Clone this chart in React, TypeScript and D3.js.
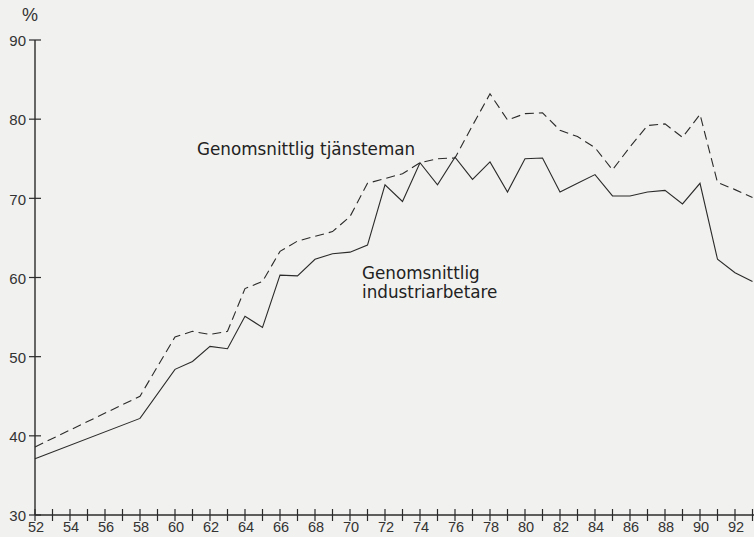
import React from "react";
import * as d3 from "d3";

const years = [52, 58, 60, 61, 62, 63, 64, 65, 66, 67, 68, 69, 70, 71, 72, 73, 74, 75, 76, 77, 78, 79, 80, 81, 82, 83, 84, 85, 86, 87, 88, 89, 90, 91, 92, 93];
const industriarbetare = [37.1, 42.2, 48.4, 49.4, 51.3, 51.0, 55.1, 53.7, 60.3, 60.2, 62.3, 63.0, 63.2, 64.1, 71.7, 69.6, 74.5, 71.7, 75.2, 72.4, 74.6, 70.8, 75.0, 75.1, 70.8, 71.9, 73.0, 70.3, 70.3, 70.8, 71.0, 69.3, 71.9, 62.3, 60.6, 59.5];
const tjansteman = [38.6, 45.0, 52.5, 53.2, 52.8, 53.2, 58.6, 59.5, 63.3, 64.6, 65.2, 65.8, 67.7, 71.9, 72.5, 73.1, 74.5, 75.0, 75.1, 79.2, 83.2, 79.9, 80.7, 80.8, 78.6, 77.8, 76.4, 73.6, 76.5, 79.2, 79.4, 77.7, 80.6, 72.0, 71.1, 70.1];
const xTickYears = d3.range(52, 94);
const xLabelYears = d3.range(52, 93, 2);
const yTicks = [30, 40, 50, 60, 70, 80, 90];
const labelTjansteman = "Genomsnittlig tjänsteman";
const labelIndustri = ["Genomsnittlig", "industriarbetare"];

export default function App() {
  const W = 754, H = 537;
  const x = d3.scaleLinear().domain([52, 93]).range([35, 752.5]);
  const y = d3.scaleLinear().domain([30, 90]).range([515, 40]);
  const line = d3
    .line<number>()
    .x((_, i) => x(years[i]))
    .y((d) => y(d));
  const ink = "#2b2b2b";
  const tickFont = "'Liberation Sans', Arial, sans-serif";
  const labelFont = "'DejaVu Sans', sans-serif";
  return (
    <svg width={W} height={H} style={{ position: "absolute", left: 0, top: 0, background: "#f1f1ef" }}>
      <rect x={0} y={0} width={W} height={H} fill="#f1f1ef" />
      {/* y axis */}
      <line x1={x(52)} x2={x(52)} y1={y(30)} y2={y(90)} stroke={ink} strokeWidth={1.4} />
      {yTicks.map((t) => (
        <g key={t}>
          <line x1={x(52) - 6} x2={x(52) + 6} y1={y(t)} y2={y(t)} stroke={ink} strokeWidth={1.2} />
          <text x={x(52) - 9} y={y(t) + 1} dy="0.35em" textAnchor="end" fontFamily={tickFont} fontSize={15} fill="#333">
            {t}
          </text>
        </g>
      ))}
      <text x={30} y={21} textAnchor="middle" fontFamily={tickFont} fontSize={18} fill="#333">%</text>
      {/* x axis */}
      <line x1={x(52)} x2={W} y1={y(30)} y2={y(30)} stroke={ink} strokeWidth={1.4} />
      {xTickYears.map((t) => (
        <line key={t} x1={x(t)} x2={x(t)} y1={y(30) - 6} y2={y(30) + 6} stroke={ink} strokeWidth={1.2} />
      ))}
      {xLabelYears.map((t) => (
        <text key={t} x={x(t) + 1} y={532} textAnchor="middle" fontFamily={tickFont} fontSize={14.5} fill="#333">
          {t}
        </text>
      ))}
      {/* series */}
      <path d={line(tjansteman) || ""} fill="none" stroke={ink} strokeWidth={1.1} strokeDasharray="9,5" />
      <path d={line(industriarbetare) || ""} fill="none" stroke={ink} strokeWidth={1.1} />
      {/* labels */}
      <text x={197} y={155} fontFamily={labelFont} fontSize={16.8} fill="#222">{labelTjansteman}</text>
      <text x={362} y={279} fontFamily={labelFont} fontSize={16.8} fill="#222">{labelIndustri[0]}</text>
      <text x={362} y={298} fontFamily={labelFont} fontSize={16.8} fill="#222">{labelIndustri[1]}</text>
    </svg>
  );
}
